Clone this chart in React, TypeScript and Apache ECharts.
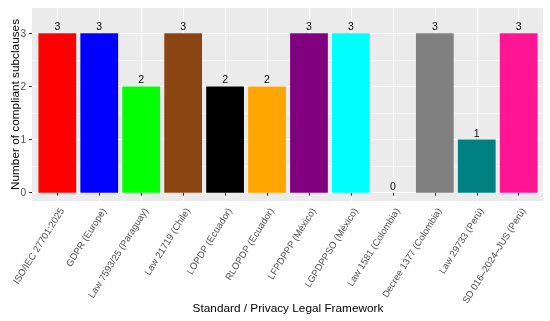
import React, { useEffect, useRef } from "react";
import * as echarts from "echarts";

const categories = [
  "ISO/IEC 27701:2025",
  "GDPR (Europe)",
  "Law 7593/25 (Paraguay)",
  "Law 21719 (Chile)",
  "LOPDP (Ecuador)",
  "RLOPDP (Ecuador)",
  "LFPDPPP (México)",
  "LGPDPPSO (México)",
  "Law 1581 (Colombia)",
  "Decree 1377 (Colombia)",
  "Law 29733 (Perú)",
  "SD 016–2024–JUS (Perú)",
];
const values = [3, 3, 2, 3, 2, 2, 3, 3, 0, 3, 1, 3];
const colors = [
  "#FF0000",
  "#0000FF",
  "#00FF00",
  "#8B4513",
  "#000000",
  "#FFA500",
  "#800080",
  "#00FFFF",
  "#BEBEBE",
  "#808080",
  "#008080",
  "#FF1493",
];
const yTicks = [0, 1, 2, 3];

const FONT = "'Liberation Sans', Arial, Helvetica, sans-serif";

export default function App() {
  const ref = useRef<HTMLDivElement>(null);
  useEffect(() => {
    if (!ref.current) return;
    const chart = echarts.init(ref.current, undefined, { renderer: "svg" });
    chart.setOption({
      animation: false,
      textStyle: { fontFamily: FONT },
      graphic: [
        {
          type: "rect",
          z: -10,
          silent: true,
          shape: { x: 32, y: 8, width: 511, height: 193 },
          style: { fill: "#EBEBEB" },
        },
      ],
      grid: [
        { left: 32, right: 7, top: 33.3, bottom: 128.3, outerBoundsMode: "none", containLabel: false },
        { left: 57.3, right: 31.3, top: 8, bottom: 120, outerBoundsMode: "none", containLabel: false },
      ],
      xAxis: [
        { gridIndex: 0, type: "value", show: false, min: 0, max: 1 },
        {
          gridIndex: 1,
          type: "category",
          data: categories,
          boundaryGap: false,
          axisLine: { show: false },
          axisTick: { show: true, length: 3, lineStyle: { color: "#333333", width: 1 } },
          axisLabel: {
            interval: 0,
            rotate: 58,
            align: "right",
            verticalAlign: "top",
            fontSize: 9.5,
            color: "#4D4D4D",
            margin: 5,
          },
          splitLine: { show: true, lineStyle: { color: "#FFFFFF", width: 1.1 } },
          name: "Standard / Privacy Legal Framework",
          nameLocation: "middle",
          nameGap: 101,
          nameMoveOverlap: false,
          nameTextStyle: { fontSize: 11.8, color: "#000000" },
        },
      ],
      yAxis: [
        {
          gridIndex: 0,
          type: "value",
          min: yTicks[0],
          max: yTicks[yTicks.length - 1],
          interval: 1,
          axisLine: { show: false },
          axisTick: { show: true, length: 3, lineStyle: { color: "#333333", width: 1 } },
          axisLabel: { fontSize: 10, color: "#4D4D4D", margin: 6 },
          splitLine: { show: true, lineStyle: { color: "#FFFFFF", width: 1.1 } },
          minorTick: { show: false, splitNumber: 2 },
          minorSplitLine: { show: true, lineStyle: { color: "#FFFFFF", width: 0.5 } },
        },
        {
          gridIndex: 1,
          type: "value",
          min: -0.156,
          max: 3.476,
          axisLine: { show: false },
          axisTick: { show: false },
          axisLabel: { show: false },
          splitLine: { show: false },
          name: "Number of compliant subclauses",
          nameLocation: "middle",
          nameGap: 36,
          nameMoveOverlap: false,
          nameTextStyle: { fontSize: 11.8, color: "#000000" },
        },
      ],
      series: [
        {
          type: "bar",
          xAxisIndex: 1,
          yAxisIndex: 1,
          barWidth: "90%",
          data: values.map((v, i) => ({ value: v, itemStyle: { color: colors[i] } })),
          label: {
            show: true,
            position: "top",
            distance: 1.5,
            color: "#000000",
            fontSize: 10.5,
          },
        },
      ],
    });
    return () => chart.dispose();
  }, []);
  return (
    <div
      ref={ref}
      style={{ position: "fixed", left: 0, top: 0, width: 550, height: 321 }}
    />
  );
}
